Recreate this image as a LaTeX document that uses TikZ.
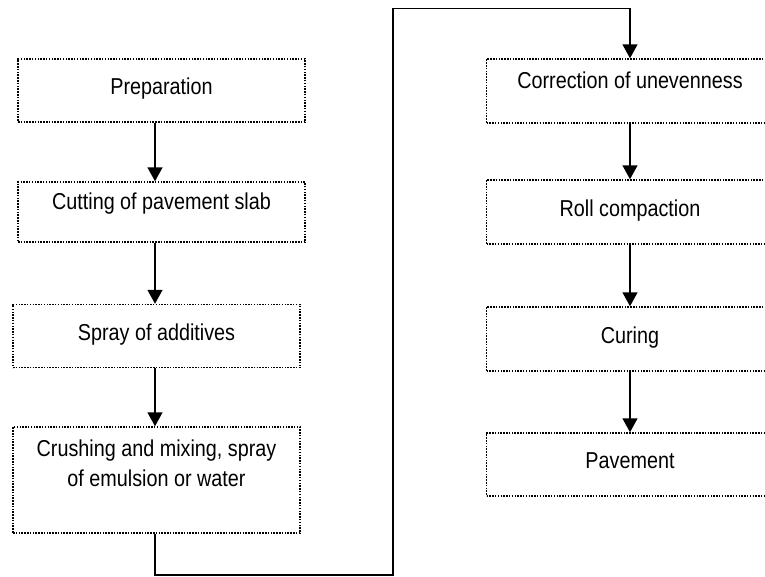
\documentclass[tikz,border=0pt]{standalone}
\usepackage{fontspec}
\setmainfont{Liberation Sans}[FakeStretch=0.86]
\usetikzlibrary{arrows.meta}
\begin{document}
\begin{tikzpicture}[x=1pt,y=-1pt,
  box/.style={draw,line width=1.5pt,dash pattern=on 1.5pt off 1.3pt,minimum width=287pt,minimum height=63pt,inner sep=0pt,font=\fontsize{23}{30}\selectfont,text height=16.5pt,text depth=8.5pt},
  topbox/.style={box,text depth=22.5pt},
  flow/.style={line width=1.6pt,-{Triangle[width=15pt,length=14pt]}}]
\useasboundingbox (0,0) rectangle (765,576);
\clip (0,0) rectangle (765,576);

\node[box] (prep) at (161.5,90.5) {Preparation};
\node[topbox,minimum height=60pt] (cut) at (161.5,212) {Cutting of pavement slab};
\node[box] (spray) at (156.5,336) {Spray of additives};
\node[box,minimum height=106pt,align=center,text depth=4.5pt] (crush) at (156.5,480) {Crushing and mixing, spray\\of emulsion or water};

\node[topbox,minimum height=64pt] (corr) at (630,91) {Correction of unevenness};
\node[box,minimum height=64pt] (roll) at (630,212) {Roll compaction};
\node[box,minimum height=64pt] (cure) at (630,339) {Curing};
\node[box] (pave) at (630,464.5) {Pavement};

\coordinate (lx) at (155,0);
\coordinate (rx) at (630,0);
\coordinate (lowturn) at (393,575);
\coordinate (topturn) at (393,8.5);

\draw[flow] (prep.south -| lx) -- (cut.north -| lx);
\draw[flow] (cut.south -| lx) -- (spray.north -| lx);
\draw[flow] (spray.south -| lx) -- (crush.north -| lx);
\draw[flow] (crush.south -| lx) |- (lowturn) -- (topturn) -| (corr.north -| rx);

\draw[flow] (corr.south -| rx) -- (roll.north -| rx);
\draw[flow] (roll.south -| rx) -- (cure.north -| rx);
\draw[flow] (cure.south -| rx) -- (pave.north -| rx);
\end{tikzpicture}
\end{document}
